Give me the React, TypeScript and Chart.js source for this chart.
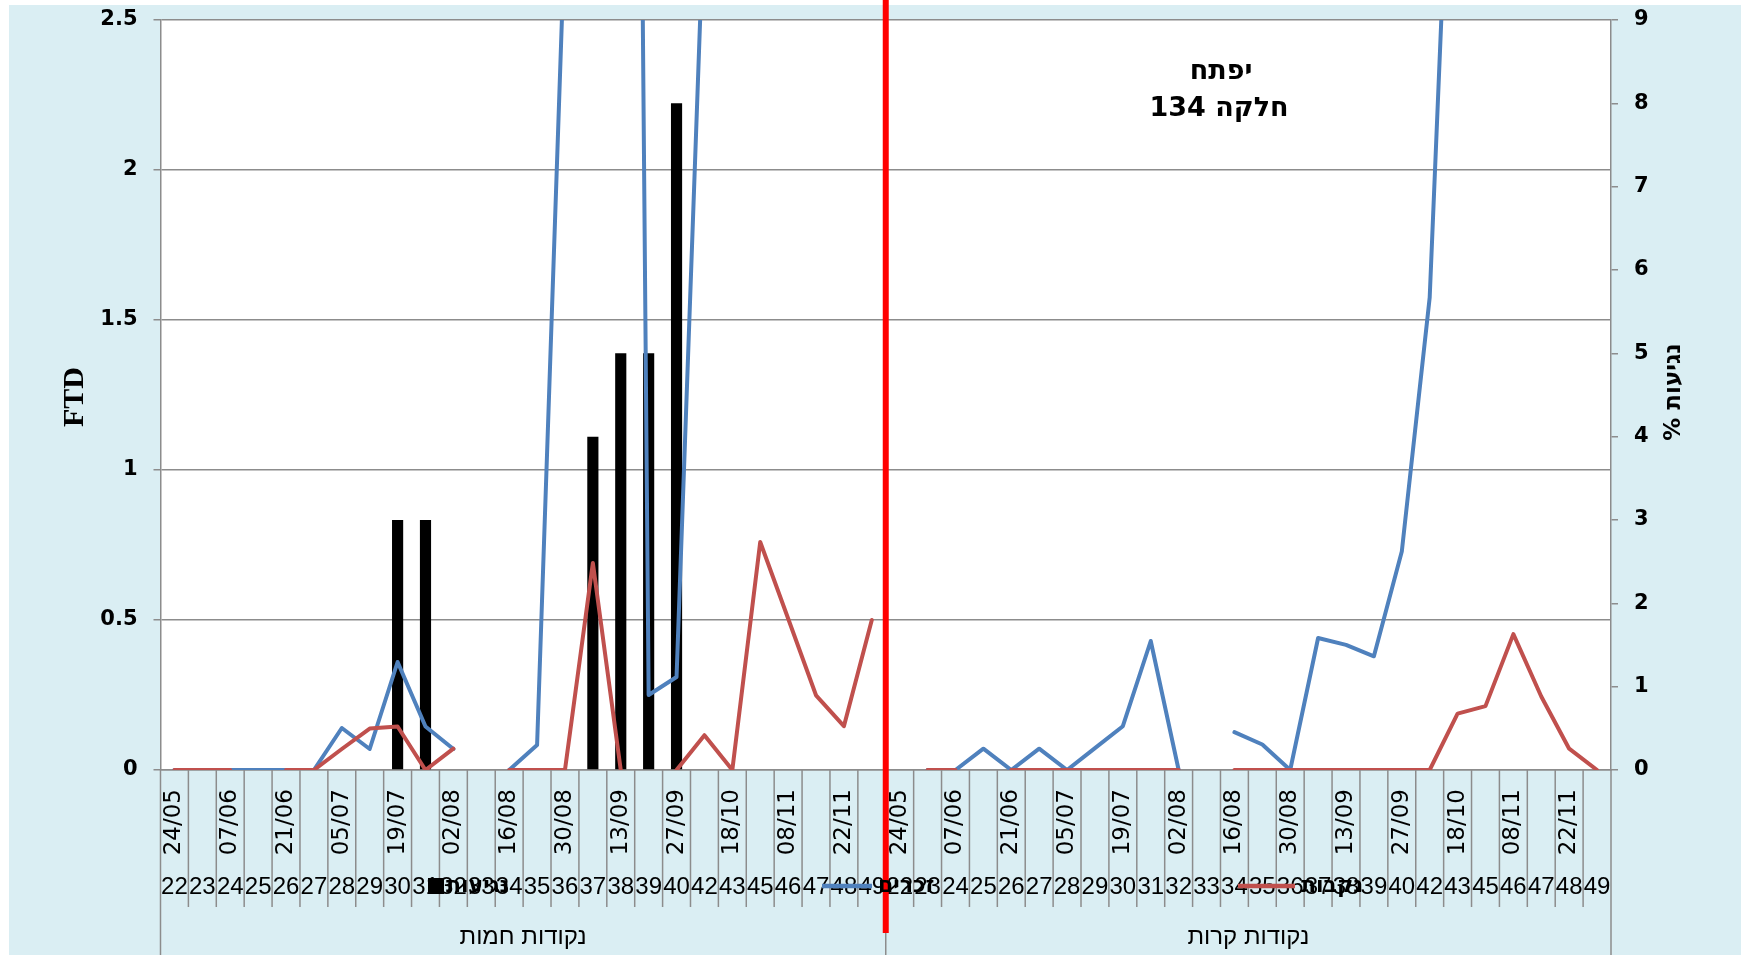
import React, { useEffect, useRef } from "react";
import { Chart, registerables } from "chart.js";

Chart.register(...registerables);

// ---- data ----
const dates = [
  "24/05", "31/05", "07/06", "14/06", "21/06", "28/06", "05/07", "12/07", "19/07", "26/07",
  "02/08", "09/08", "16/08", "23/08", "30/08", "06/09", "13/09", "20/09", "27/09", "11/10",
  "18/10", "01/11", "08/11", "15/11", "22/11", "29/11",
];
const weeks = [
  "22", "23", "24", "25", "26", "27", "28", "29", "30", "31", "32", "33", "34", "35", "36",
  "37", "38", "39", "40", "42", "43", "45", "46", "47", "48", "49",
];
const groups = ["נקודות חמות", "נקודות קרות"];

// infestation % (right axis)
const barsHot = [null, null, null, null, null, null, null, null, 3, 3, null, null, null, null, null, 4, 5, 5, 8, null, null, null, null, null, null, null];
const barsCold = [null, null, null, null, null, null, null, null, null, null, null, null, null, null, null, null, null, null, null, null, null, null, null, null, null, null];

// FTD (left axis)
const blueHot = [0, 0, 0, 0, 0, 0, 0.14, 0.07, 0.36, 0.145, 0.07, null, 0, 0.083, 2.8, 7, 11, 0.25, 0.31, 2.9, null, null, null, null, null, null];
const blueCold = [null, 0, 0, 0.071, 0, 0.071, 0, 0.073, 0.146, 0.43, 0, null, 0.126, 0.085, 0, 0.44, 0.417, 0.379, 0.728, 1.575, 3.8, null, null, null, null, null];
const redHot = [0, 0, 0, null, 0, 0, 0.07, 0.138, 0.145, 0, 0.071, null, 0, 0, 0, 0.69, 0, null, 0, 0.116, 0, 0.76, 0.505, 0.249, 0.146, 0.5];
const redCold = [null, 0, 0, null, 0, 0, 0, 0, 0, 0, 0, null, 0, 0, 0, 0, 0, 0, 0, 0, 0.188, 0.213, 0.453, 0.245, 0.071, 0];

const seriesNames = ["נגיעות", "זכרים", "נקבות"];
const plotTitle = ["יפתח", "חלקה 134"];
const leftTitle = "FTD";
const rightTitle = "נגיעות %";

const W = 1732;
const H = 955;
const GRID = "#8c8c8c";
const BG = "#DAEEF3";
const BLUE = "#4F81BD";
const RED = "#C0504D";

const labels = [...weeks, ...weeks];

const bgPlugin = {
  id: "bgPlugin",
  beforeDraw(chart: any) {
    const { ctx, chartArea: a } = chart;
    ctx.save();
    ctx.fillStyle = BG;
    ctx.fillRect(0, 5, chart.width, chart.height - 5);
    ctx.fillStyle = "#ffffff";
    ctx.fillRect(a.left, a.top, a.right - a.left, a.bottom - a.top);
    ctx.restore();
  },
};

const overlayPlugin = {
  id: "overlayPlugin",
  afterDraw(chart: any) {
    const { ctx, chartArea: a, scales } = chart;
    const xs = scales.x;
    const n = labels.length;
    const per = weeks.length;
    const cw = (a.right - a.left) / n;
    ctx.save();

    // category cell separators
    ctx.strokeStyle = GRID;
    ctx.lineWidth = 1.5;
    for (let k = 0; k <= n; k++) {
      const px = a.left + k * cw;
      const isGroup = k % per === 0;
      ctx.beginPath();
      ctx.moveTo(px, a.bottom);
      ctx.lineTo(px, isGroup ? chart.height : a.bottom + 137);
      ctx.stroke();
    }

    ctx.fillStyle = "#000";
    // date labels (rotated)
    ctx.font = "23px 'DejaVu Sans'";
    ctx.textAlign = "right";
    ctx.textBaseline = "middle";
    for (let g = 0; g < 2; g++) {
      for (let i = 0; i < dates.length; i += 2) {
        const cx = xs.getPixelForValue(g * per + i);
        ctx.save();
        ctx.translate(cx, a.bottom + 19);
        ctx.rotate(-Math.PI / 2);
        ctx.fillText(dates[i], 0, 0);
        ctx.restore();
      }
    }
    // week numbers
    ctx.font = "24px 'Liberation Sans'";
    ctx.textAlign = "center";
    for (let g = 0; g < 2; g++) {
      for (let i = 0; i < weeks.length; i++) {
        const cx = xs.getPixelForValue(g * per + i);
        ctx.fillText(weeks[i], cx, a.bottom + 117);
      }
    }
    // group labels
    ctx.font = "24px 'Liberation Sans'";
    ctx.direction = "rtl";
    for (let g = 0; g < 2; g++) {
      const cx = a.left + (g * per + per / 2) * cw;
      ctx.fillText(groups[g], cx, a.bottom + 167);
    }

    // red divider
    const dx = a.left + per * cw;
    ctx.strokeStyle = "#FF0000";
    ctx.lineWidth = 6;
    ctx.beginPath();
    ctx.moveTo(dx, 0);
    ctx.lineTo(dx, a.bottom + 163);
    ctx.stroke();

    // annotation
    ctx.fillStyle = "#000";
    ctx.font = "bold 27px 'DejaVu Sans'";
    ctx.textAlign = "center";
    ctx.direction = "rtl";
    ctx.fillText(plotTitle[0], 1212, 72);
    ctx.fillText(plotTitle[1], 1210, 109);

    // axis titles
    ctx.direction = "ltr";
    ctx.font = "bold 30px 'Liberation Serif'";
    ctx.save();
    ctx.translate(66, 397);
    ctx.rotate(-Math.PI / 2);
    ctx.fillText(leftTitle, 0, 0);
    ctx.restore();

    ctx.font = "bold 23px 'DejaVu Sans'";
    ctx.direction = "rtl";
    ctx.save();
    ctx.translate(1665, 392);
    ctx.rotate(-Math.PI / 2);
    ctx.fillText(rightTitle, 0, 0);
    ctx.restore();

    // legend (overlapping week row)
    const ly = a.bottom + 116;
    ctx.direction = "rtl";
    ctx.textAlign = "left";
    ctx.font = "bold 22px 'DejaVu Sans'";
    ctx.fillStyle = "#000";
    ctx.fillRect(419, ly - 8, 16, 16);
    ctx.fillText(seriesNames[0], 437, ly);

    ctx.strokeStyle = BLUE;
    ctx.lineWidth = 4.5;
    ctx.beginPath();
    ctx.moveTo(813, ly);
    ctx.lineTo(863, ly);
    ctx.stroke();
    ctx.fillText(seriesNames[1], 869, ly);

    ctx.strokeStyle = RED;
    ctx.beginPath();
    ctx.moveTo(1229, ly);
    ctx.lineTo(1286, ly);
    ctx.stroke();
    ctx.fillText(seriesNames[2], 1292, ly);

    ctx.restore();
  },
};

const tickFont = { family: "'DejaVu Sans'", size: 21, weight: "bold" as const };

export default function App() {
  const ref = useRef<HTMLCanvasElement>(null);
  useEffect(() => {
    if (!ref.current) return;
    const chart = new Chart(ref.current, {
      type: "bar",
      data: {
        labels,
        datasets: [
          {
            type: "line",
            label: seriesNames[2],
            data: [...redHot, ...redCold],
            yAxisID: "y",
            borderColor: RED,
            backgroundColor: RED,
            borderWidth: 4,
            pointRadius: 0,
            tension: 0,
            spanGaps: false,
            borderJoinStyle: "round",
            borderCapStyle: "round",
            order: 1,
          } as any,
          {
            type: "line",
            label: seriesNames[1],
            data: [...blueHot, ...blueCold],
            yAxisID: "y",
            borderColor: BLUE,
            backgroundColor: BLUE,
            borderWidth: 4,
            pointRadius: 0,
            tension: 0,
            spanGaps: false,
            borderJoinStyle: "round",
            borderCapStyle: "round",
            order: 2,
          } as any,
          {
            type: "bar",
            label: seriesNames[0],
            data: [...barsHot, ...barsCold],
            yAxisID: "y1",
            backgroundColor: "#000000",
            barPercentage: 0.4,
            categoryPercentage: 1,
            order: 3,
          } as any,
        ],
      },
      options: {
        responsive: false,
        animation: false,
        devicePixelRatio: 1,
        layout: { padding: { top: 20, left: 0, right: 0, bottom: 0 } },
        plugins: { legend: { display: false }, tooltip: { enabled: false } },
        scales: {
          x: {
            type: "category",
            offset: true,
            ticks: { display: false },
            grid: { display: false, drawTicks: false },
            border: { display: true, color: GRID, width: 1.5 },
            afterFit: (s: any) => {
              s.height = 185;
              s.paddingLeft = 0;
              s.paddingRight = 0;
            },
          },
          y: {
            position: "left",
            min: 0,
            max: 2.5,
            ticks: {
              stepSize: 0.5,
              color: "#000",
              font: tickFont,
              padding: 16,
              callback: (v: any) => String(v),
            },
            grid: { color: GRID, lineWidth: 1.5, tickLength: 7, drawTicks: true },
            border: { display: true, color: GRID, width: 1.5 },
            afterFit: (s: any) => {
              s.width = 151.5;
              s.paddingTop = 0;
              s.paddingBottom = 0;
            },
          },
          y1: {
            position: "right",
            min: 0,
            max: 9,
            ticks: {
              stepSize: 1,
              color: "#000",
              font: tickFont,
              padding: 16,
              callback: (v: any) => String(v),
            },
            grid: { drawOnChartArea: false, color: GRID, lineWidth: 1.5, tickLength: 7 },
            border: { display: true, color: GRID, width: 1.5 },
            afterFit: (s: any) => {
              s.width = 130;
              s.paddingTop = 0;
              s.paddingBottom = 0;
            },
          },
        },
      } as any,
      plugins: [bgPlugin, overlayPlugin],
    });
    return () => chart.destroy();
  }, []);

  return (
    <div style={{ position: "absolute", left: 9, top: 0, width: W, height: H }}>
      <canvas ref={ref} width={W} height={H} style={{ display: "block" }} />
    </div>
  );
}
